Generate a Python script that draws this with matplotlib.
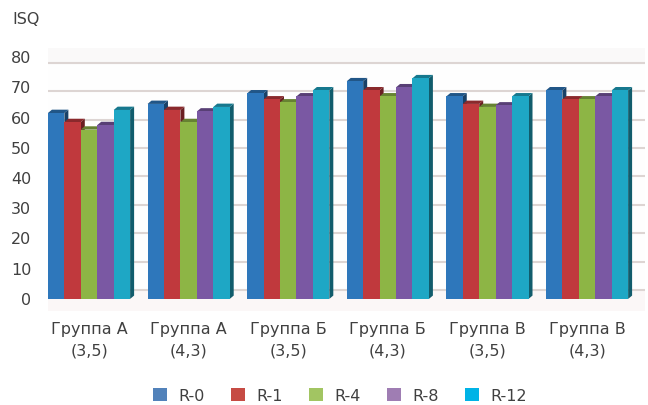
import numpy as np
import matplotlib
matplotlib.use('Agg')
from matplotlib import pyplot as plt
from matplotlib.patches import Polygon, Patch
from matplotlib.colors import to_rgb

# ISQ values per group (columns) for each series
groups = ['Группа А\n(3,5)', 'Группа А\n(4,3)', 'Группа Б\n(3,5)',
          'Группа Б\n(4,3)', 'Группа В\n(3,5)', 'Группа В\n(4,3)']
series = ['R-0', 'R-1', 'R-4', 'R-8', 'R-12']
r0 = [61.5, 64.5, 68.0, 72.0, 67.0, 69.0]
r1 = [58.5, 62.5, 66.0, 69.0, 64.5, 66.0]
r4 = [56.0, 58.5, 65.0, 67.0, 63.5, 66.0]
r8 = [57.5, 62.0, 67.0, 70.0, 64.0, 67.0]
r12 = [62.5, 63.5, 69.0, 73.0, 67.0, 69.0]
yticks = [0, 10, 20, 30, 40, 50, 60, 70, 80]

values = [r0, r1, r4, r8, r12]
bar_cols = ['#2E77BB', '#C0393D', '#8DB545', '#7A58A3', '#1EA7C5']
leg_cols = ['#5282BA', '#C64B44', '#A2C562', '#9F7DB3', '#00B3E6']
txt = '#404040'

def shade(c, f):
    r, g, b = to_rgb(c)
    return (r * f, g * f, b * f)

plt.rcParams['font.family'] = 'DejaVu Sans'
fig = plt.figure(figsize=(6.48, 4.05), dpi=100)
ax = fig.add_axes([48 / 648, 1 - 311 / 405, 597 / 648, 263 / 405])
ax.set_xlim(-0.412, 5.582)
ax.set_ylim(-4, 83)

# back wall, top band and floor
ax.axhspan(-4, 83, color='#FEFEFE', zorder=0)
ax.axhspan(78.1, 83, color='#FAF9F9', zorder=0.1)
ax.axhspan(-4, 2.98, color='#FBF7F7', zorder=0.1)

# gridlines sit on the back wall, so they are squeezed a little
for v in yticks:
    yb = 2.98 + 0.939 * v
    ax.axhline(yb, color='#DDD5D3', lw=1.5, zorder=0.5)

# 3-D looking columns: front face, darker top cap and right side
bw = 0.165
dx = 0.04
dy = 1.1
z = 2
for gi in range(len(groups)):
    for k in range(len(series)):
        h = values[k][gi]
        x0 = gi + (k - 2.5) * bw
        x1 = x0 + bw
        c = bar_cols[k]
        side = Polygon([(x1, 0), (x1 + dx, dy), (x1 + dx, h + dy), (x1, h)],
                       closed=True, fc=shade(c, 0.55), ec='none', zorder=z)
        top = Polygon([(x0, h), (x1, h), (x1 + dx, h + dy), (x0 + dx, h + dy)],
                      closed=True, fc=shade(c, 0.72), ec='none', zorder=z)
        ax.add_patch(side)
        ax.add_patch(top)
        ax.bar(x0, h, width=bw, align='edge', color=c, zorder=z + 0.5)
        z += 1

ax.set_yticks(yticks)
ax.set_xticks(range(len(groups)))
ax.set_xticklabels(groups, linespacing=1.55)
ax.tick_params(axis='y', length=0, pad=12, labelsize=11.5, labelcolor=txt)
ax.tick_params(axis='x', length=0, pad=8, labelsize=11.5, labelcolor=txt)
for s in ax.spines.values():
    s.set_visible(False)

fig.text(12 / 648, 1 - 20 / 405, 'ISQ', fontsize=11.5, color=txt, va='center')

handles = [Patch(facecolor=c, edgecolor='none') for c in leg_cols]
leg = fig.legend(handles, series, loc='center', bbox_to_anchor=(340 / 648, 1 - 396 / 405),
                 ncol=5, frameon=False, fontsize=11.5, handlelength=0.875,
                 handleheight=0.875, handletextpad=0.75, columnspacing=1.6)
for t in leg.get_texts():
    t.set_color(txt)

fig.savefig('out.png', dpi=100)
